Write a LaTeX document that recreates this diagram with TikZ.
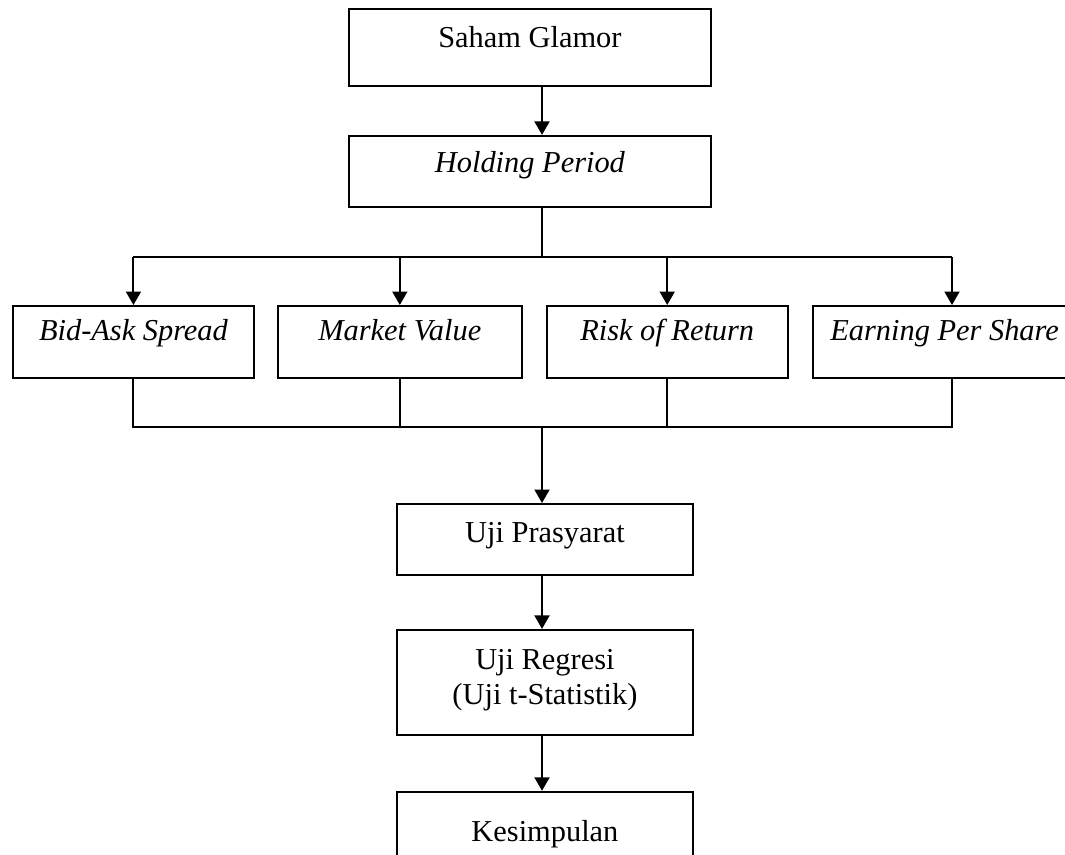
\documentclass[tikz,border=0pt]{standalone}
\usepackage{fontspec}
\setmainfont{Liberation Serif}
\usetikzlibrary{positioning,arrows.meta}

\begin{document}
\begin{tikzpicture}[x=0.02cm, y=0.02cm, >={Triangle[length=0.27cm,width=0.3cm]}, every node/.style={font=\fontsize{17.3}{19.9}\selectfont}, kotak/.style={draw,line width=1.1pt,inner sep=0pt,align=center}, garis/.style={line width=1.1pt}, baris/.style={kotak,font=\fontsize{17.3}{19.9}\selectfont\itshape,minimum height=1.44cm,text height=0.70cm,text depth=0.74cm}]
\path[use as bounding box,clip] (0,0) rectangle (1065,-855);
\node[kotak,anchor=north west,minimum width=7.24cm,minimum height=1.54cm,text height=0.78cm,text depth=0.76cm] (saham) at (348,-8) {Saham Glamor};
\node[kotak,below=0.96cm of saham,minimum width=7.24cm,minimum height=1.42cm,text height=0.74cm,text depth=0.68cm,font=\fontsize{17.3}{19.9}\selectfont\itshape] (holding) {Holding Period};
\node[baris,anchor=north west,minimum width=4.82cm] (bid) at (12,-305) {Bid-Ask Spread};
\node[baris,right=0.44cm of bid,minimum width=4.88cm] (market) {Market Value};
\node[baris,right=0.46cm of market,minimum width=4.82cm] (risk) {Risk of Return};
\node[baris,right=0.46cm of risk,minimum width=5.28cm] (earning) {Earning Per Share};
\node[kotak,anchor=north west,minimum width=5.92cm,minimum height=1.42cm,text height=0.78cm,text depth=0.64cm] (prasyarat) at (396,-503) {Uji Prasyarat};
\node[kotak,below=1.06cm of prasyarat,minimum width=5.92cm,minimum height=2.1cm,text height=1.5cm,text depth=0.6cm] (regresi) {Uji Regresi\\(Uji t-Statistik)};
\node[kotak,below=1.1cm of regresi,minimum width=5.92cm,minimum height=2.06cm,text height=1.0cm,text depth=1.06cm] (kesimpulan) {Kesimpulan};
\coordinate (spine) at (542,0);
\coordinate (atas) at (0,-257);
\coordinate (bawah) at (0,-427);
\coordinate (kanan) at (952,0);
\draw[garis,->] (saham.south -| spine) -- (holding.north -| spine);
\draw[garis] (holding.south -| spine) -- (atas -| spine);
\draw[garis] (atas -| bid) -- (atas -| kanan);
\foreach \n in {bid,market,risk}
  \draw[garis,->] (atas -| \n) -- (\n.north);
\draw[garis,->] (atas -| kanan) -- (earning.north -| kanan);
\draw[garis] (bid.south) -- (bawah -| bid) -- (bawah -| kanan) -- (earning.south -| kanan);
\foreach \n in {market,risk}
  \draw[garis] (\n.south) -- (bawah -| \n);
\draw[garis,->] (bawah -| spine) -- (prasyarat.north -| spine);
\draw[garis,->] (prasyarat.south -| spine) -- (regresi.north -| spine);
\draw[garis,->] (regresi.south -| spine) -- (kesimpulan.north -| spine);
\end{tikzpicture}
\end{document}
